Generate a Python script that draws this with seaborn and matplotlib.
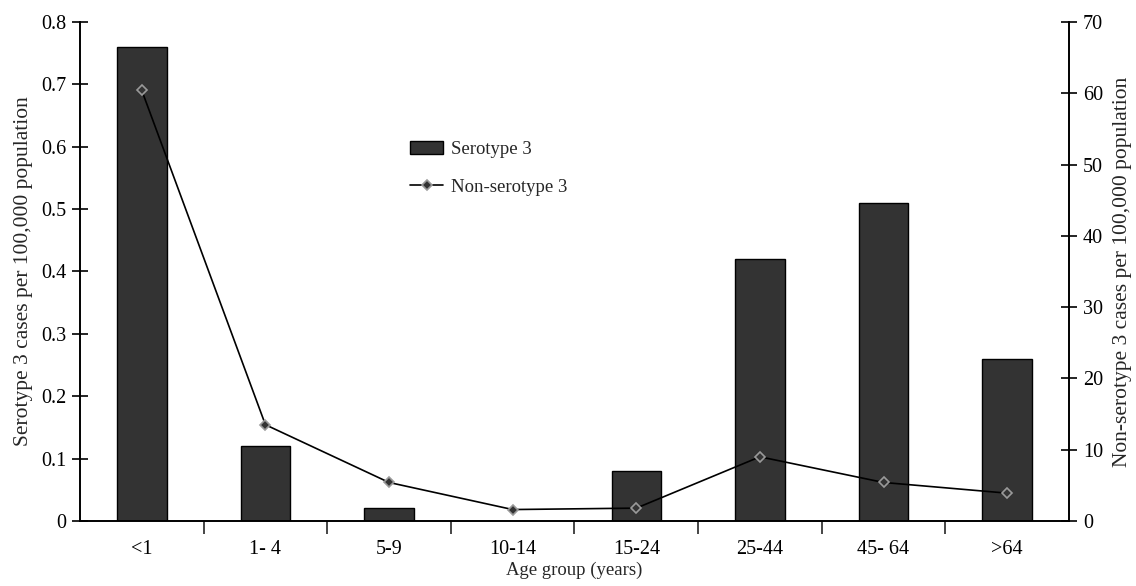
import numpy as np
import pandas as pd
import matplotlib
matplotlib.use('Agg')
import matplotlib.pyplot as plt
from matplotlib.ticker import FixedLocator
import seaborn as sb

# Values
age_groups = ['<1', '1- 4', '5-9', '10-14', '15-24', '25-44', '45- 64', '>64']
serotype3 = [0.76, 0.12, 0.02, 0.0, 0.08, 0.42, 0.51, 0.26]
non_serotype3 = [60.4, 13.5, 5.4, 1.6, 1.8, 9.0, 5.4, 3.9]

df = pd.DataFrame({'age': age_groups, 'sero3': serotype3, 'nonsero3': non_serotype3})
df['pos'] = np.arange(len(df))

sb.set_style('white')
plt.rcParams['font.family'] = ['Liberation Serif', 'DejaVu Serif']

fig = plt.figure(figsize=(11.36, 5.86), dpi=100)
ax = fig.add_axes([0.0704, 0.111, 0.8706, 0.8515])

sb.barplot(data=df, x='age', y='sero3', color='#333333', width=0.4,
           edgecolor='black', linewidth=1, saturation=1, ax=ax, label='Serotype 3')
ax.set_xlim(-0.5, len(df) - 0.5)
ax.set_ylim(0, 0.8)
ax.set_yticks(np.arange(0, 0.81, 0.1))
ax.set_yticklabels(['0'] + [f'{v:.1f}' for v in np.arange(0.1, 0.81, 0.1)])
ax.set_ylabel('Serotype 3 cases per 100,000 population', fontsize=15.5, labelpad=6)
ax.set_xlabel('Age group (years)', fontsize=13.5, labelpad=2)

ax2 = ax.twinx()
sb.lineplot(data=df, x='pos', y='nonsero3', color='black', linewidth=1.2,
            marker='D', markersize=5, markerfacecolor='#333333',
            markeredgecolor='#9a9a9a', markeredgewidth=1.2, ax=ax2,
            label='Non-serotype 3')
ax2.set_ylim(0, 70)
ax2.set_yticks(range(0, 71, 10))
ax2.set_ylabel('Non-serotype 3 cases per 100,000 population', fontsize=15.5,
               rotation=90, labelpad=7)
ax2.set_xlabel('')

# spines and ticks
for a in (ax, ax2):
    a.spines['top'].set_visible(False)
    for s in ('left', 'right', 'bottom'):
        a.spines[s].set_color('black')
        a.spines[s].set_linewidth(1.2)
ax.tick_params(axis='y', direction='inout', length=12, width=1.2, labelsize=14.5,
               left=True, pad=4, colors='black')
ax2.tick_params(axis='y', direction='inout', length=12, width=1.2, labelsize=14.5,
                right=True, pad=4, colors='black')
ax.tick_params(axis='x', which='major', length=0, labelsize=14.5, pad=14, colors='black')
ax.xaxis.set_minor_locator(FixedLocator(np.arange(0.5, len(df) - 1, 1.0)))
ax.tick_params(axis='x', which='minor', direction='out', length=9, width=1.2, bottom=True)

# legend
h1, l1 = ax.get_legend_handles_labels()
h2, l2 = ax2.get_legend_handles_labels()
if ax.get_legend():
    ax.get_legend().remove()
ax2.legend(h1 + h2, l1 + l2, loc='upper left', bbox_to_anchor=(0.3337, 0.762),
           frameon=False, fontsize=13.5, handlelength=1.76, labelspacing=1.1,
           handletextpad=0.4, borderpad=0, borderaxespad=0)

plt.savefig('out.png', dpi=100)
